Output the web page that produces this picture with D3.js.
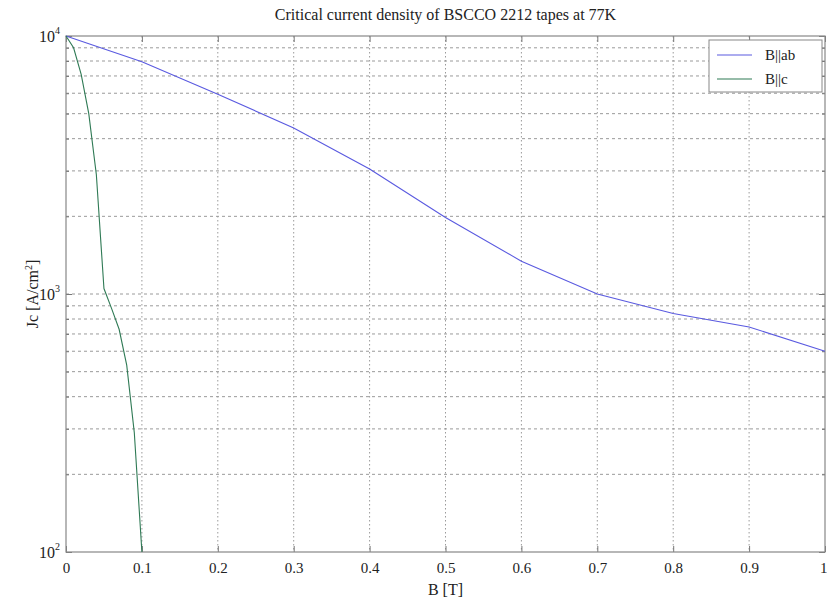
<!DOCTYPE html>
<html><head><meta charset="utf-8">
<script src="https://cdn.jsdelivr.net/npm/d3@7"></script>
<style>body{margin:0;background:#fff}svg{display:block}text{font-family:"Liberation Serif","DejaVu Serif",serif;fill:#222}</style>
</head><body><svg id="c" width="827" height="604"></svg>
<script>
const xTicks = [0,0.1,0.2,0.3,0.4,0.5,0.6,0.7,0.8,0.9,1];
const xTickLabels = ["0","0.1","0.2","0.3","0.4","0.5","0.6","0.7","0.8","0.9","1"];
const yMajor = [100,1000,10000];
const yMajorExp = ["2","3","4"];
const yMinor = [200,300,400,500,600,700,800,900,2000,3000,4000,5000,6000,7000,8000,9000];
const bAb = [0,0.1,0.2,0.3,0.4,0.5,0.6,0.7,0.8,0.9,1.0];
const jcAb = [10000,7950,5950,4400,3050,1980,1340,1000,840,745,600];
const bC = [0,0.01,0.02,0.03,0.04,0.05,0.06,0.07,0.08,0.09,0.1];
const jcC = [10000,9000,7100,5000,2900,1050,880,730,530,290,100];
const seriesNames = ["B||ab","B||c"];
const colors = ["#5a5ae0","#2f7a55"];

const svg = d3.select("#c");
const L=66,R=825,T=36,B=552;
const x = d3.scaleLinear().domain([0,1]).range([L,R]);
const y = d3.scaleLog().domain([100,10000]).range([B,T]);
const gridCol="#9a9a9a";
// grid
const g = svg.append("g");
g.selectAll(".gx").data(xTicks.slice(1,-1)).enter().append("line")
 .attr("x1",d=>x(d)).attr("x2",d=>x(d)).attr("y1",T).attr("y2",B)
 .attr("stroke",gridCol).attr("stroke-dasharray","1.5,2.5");
g.selectAll(".gy").data(yMinor.concat([1000])).enter().append("line")
 .attr("x1",L).attr("x2",R).attr("y1",d=>y(d)).attr("y2",d=>y(d))
 .attr("stroke",gridCol).attr("stroke-dasharray","3,3");
// axes via d3
const axB = d3.axisBottom(x).tickValues(xTicks).tickFormat((d,i)=>xTickLabels[i]).tickSizeInner(-6).tickSizeOuter(0).tickPadding(10);
const gb = svg.append("g").attr("transform",`translate(0,${B})`).call(axB);
const axT = d3.axisTop(x).tickValues(xTicks).tickFormat("").tickSizeInner(-6).tickSizeOuter(0);
svg.append("g").attr("transform",`translate(0,${T})`).call(axT);
const axL = d3.axisLeft(y).tickValues(yMajor).tickFormat("").tickSizeInner(-6).tickSizeOuter(0);
svg.append("g").attr("transform",`translate(${L},0)`).call(axL);
const axLm = d3.axisLeft(y).tickValues(yMinor).tickFormat("").tickSizeInner(-3).tickSizeOuter(0);
svg.append("g").attr("transform",`translate(${L},0)`).call(axLm);
const axR = d3.axisRight(y).tickValues(yMajor).tickFormat("").tickSizeInner(-6).tickSizeOuter(0);
svg.append("g").attr("transform",`translate(${R},0)`).call(axR);
const axRm = d3.axisRight(y).tickValues(yMinor).tickFormat("").tickSizeInner(-3).tickSizeOuter(0);
svg.append("g").attr("transform",`translate(${R},0)`).call(axRm);
svg.selectAll(".domain").remove();
svg.selectAll(".tick line").attr("stroke","#777");
gb.selectAll("text").attr("font-size",15).attr("fill","#222").attr("font-family","Liberation Serif, serif");
gb.selectAll(".tick").filter(d=>d===1).select("text").attr("text-anchor","end").attr("dx",2);
// box
svg.append("rect").attr("x",L).attr("y",T).attr("width",R-L).attr("height",B-T)
 .attr("fill","none").attr("stroke","#888").attr("stroke-width",1.2);
// y labels 10^n
yMajor.forEach((v,i)=>{
  const t = svg.append("text").attr("x",L-6).attr("y",y(v)+6).attr("text-anchor","end").attr("font-size",16);
  t.append("tspan").text("10");
  t.append("tspan").attr("font-size",10).attr("dy",-8).text(yMajorExp[i]);
});
// series
const line = d3.line().x(d=>x(d[0])).y(d=>y(d[1]));
svg.append("path").datum(bAb.map((b,i)=>[b,jcAb[i]])).attr("d",line).attr("fill","none").attr("stroke",colors[0]).attr("stroke-width",1.1);
svg.append("path").datum(bC.map((b,i)=>[b,jcC[i]])).attr("d",line).attr("fill","none").attr("stroke",colors[1]).attr("stroke-width",1.1);
// titles
svg.append("text").attr("x",(L+R)/2).attr("y",20).attr("text-anchor","middle").attr("font-size",16).text("Critical current density of BSCCO 2212 tapes at 77K");
svg.append("text").attr("x",(L+R)/2).attr("y",595).attr("text-anchor","middle").attr("font-size",16).text("B [T]");
const yl = svg.append("text").attr("transform",`translate(38,${(T+B)/2}) rotate(-90)`).attr("text-anchor","middle").attr("font-size",16);
yl.append("tspan").text("Jc [A/cm");
yl.append("tspan").attr("font-size",10).attr("dy",-6).text("2");
yl.append("tspan").attr("dy",6).text("]");
// legend
const lg = svg.append("g");
lg.append("rect").attr("x",709).attr("y",40).attr("width",113).attr("height",52).attr("fill","#fff").attr("stroke","#888");
seriesNames.forEach((n,i)=>{
  const yy = 55+i*24;
  lg.append("line").attr("x1",717).attr("x2",752).attr("y1",yy).attr("y2",yy).attr("stroke",colors[i]).attr("stroke-width",1.1);
  lg.append("text").attr("x",765).attr("y",yy+5).attr("font-size",15).text(n);
});
</script></body></html>
